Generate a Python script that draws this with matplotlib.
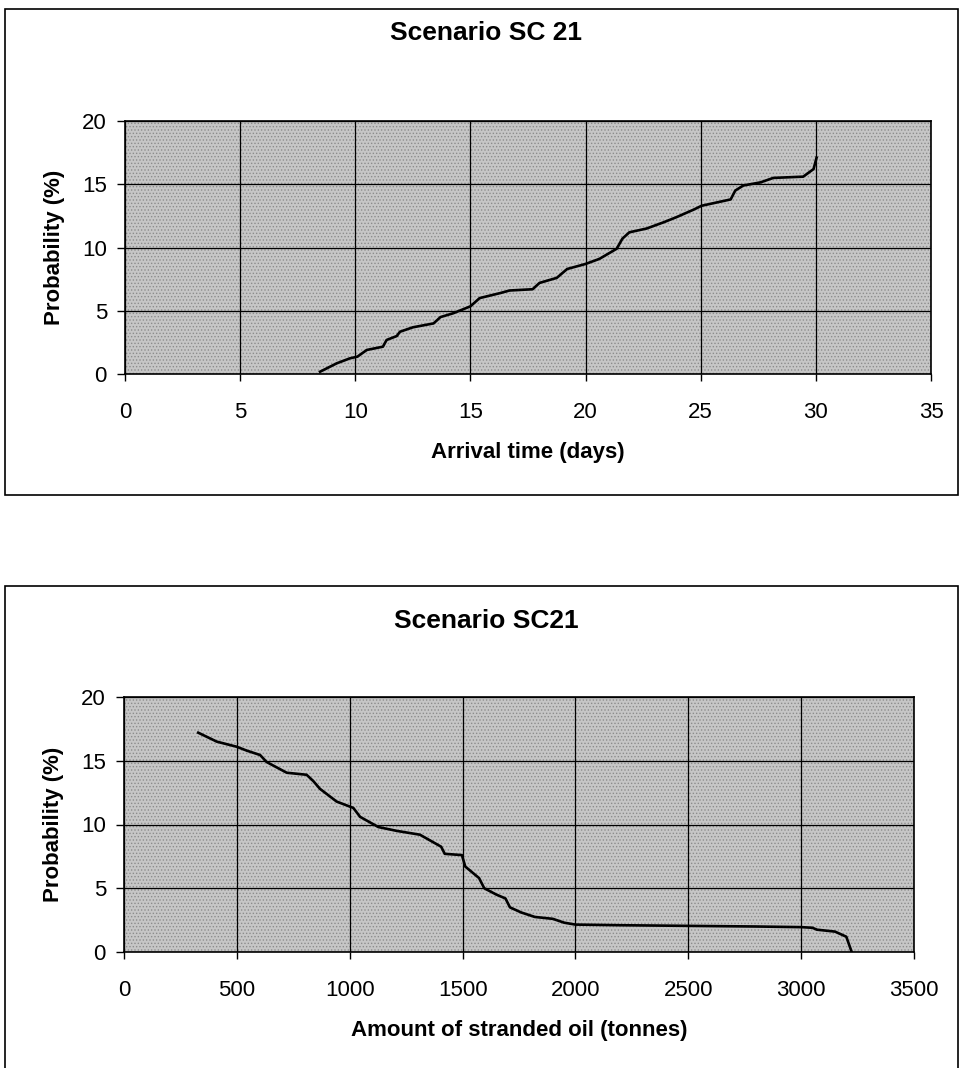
import matplotlib
matplotlib.use("Agg")
import matplotlib.pyplot as plt
from matplotlib.patches import Rectangle

plt.rcParams['font.family'] = ['Liberation Sans', 'DejaVu Sans']
plt.rcParams['hatch.linewidth'] = 0.6

arrival_days = [8.47, 9.19, 9.77, 10.09, 10.5, 11.2, 11.36, 11.8, 11.94, 12.5,
                13.4, 13.7, 14.25, 15.0, 15.4, 16.3, 16.7, 17.7, 18.0, 18.75,
                19.2, 20.0, 20.6, 21.35, 21.6, 21.9, 22.65, 23.4, 23.95, 24.7,
                25.04, 26.3, 26.5, 26.85, 27.6, 28.15, 29.45, 29.9, 30.03]
arrival_prob = [0.18, 0.84, 1.24, 1.37, 1.9, 2.16, 2.69, 3.0, 3.34, 3.69,
                4.0, 4.5, 4.8, 5.35, 6.0, 6.4, 6.6, 6.7, 7.2, 7.6,
                8.3, 8.7, 9.1, 9.9, 10.7, 11.2, 11.5, 12.0, 12.4, 13.0,
                13.3, 13.8, 14.5, 14.9, 15.15, 15.5, 15.6, 16.2, 17.1]

oil_tonnes = [329, 411, 499, 543, 603, 632, 721, 809, 839, 868,
              942, 1016, 1046, 1127, 1208, 1311, 1405, 1421, 1497, 1512,
              1573, 1596, 1650, 1690, 1710, 1760, 1820, 1900, 1950, 2000,
              2200, 2500, 2800, 3000, 3050, 3070, 3150, 3200, 3224]
oil_prob = [17.2, 16.5, 16.1, 15.8, 15.45, 14.9, 14.06, 13.9, 13.4, 12.8,
            11.8, 11.3, 10.6, 9.8, 9.5, 9.2, 8.26, 7.7, 7.6, 6.7,
            5.8, 5.0, 4.5, 4.2, 3.5, 3.1, 2.75, 2.6, 2.3, 2.15,
            2.1, 2.05, 2.0, 1.95, 1.9, 1.75, 1.6, 1.2, 0.0]

W, H = 960, 1068
fig = plt.figure(figsize=(W / 100, H / 100), dpi=100)

# chart borders
fig.patches.append(Rectangle((5 / W, 1 - 495 / H), 953 / W, 486 / H, transform=fig.transFigure,
                             fill=False, edgecolor='black', linewidth=1.2))
fig.patches.append(Rectangle((5 / W, -0.05), 953 / W, 0.05 + 1 - 586 / H, transform=fig.transFigure,
                             fill=False, edgecolor='black', linewidth=1.2))


def make_panel(rect, x, y, xmax, xstep, xlabel, title, title_y):
    ax = fig.add_axes(rect)
    ax.set_facecolor('#c6c6c6')
    ax.add_patch(Rectangle((0, 0), 1, 1, transform=ax.transAxes, facecolor='none',
                           edgecolor='#8c8c8c', hatch='.....', linewidth=0, zorder=0))
    ax.plot(x, y, color='black', linewidth=1.9, zorder=3)
    ax.set_xlim(0, xmax)
    ax.set_ylim(0, 20)
    ax.set_xticks(range(0, xmax + 1, xstep))
    ax.set_yticks(range(0, 21, 5))
    ax.grid(True, color='black', linewidth=0.9)
    ax.set_axisbelow(False)
    for s in ax.spines.values():
        s.set_linewidth(1.2)
    ax.tick_params(axis='x', length=5, width=1, pad=15, labelsize=16)
    ax.tick_params(axis='y', length=6, width=1, pad=7, labelsize=16)
    ax.set_xlabel(xlabel, fontsize=16, fontweight='bold', labelpad=14)
    ax.set_ylabel('Probability (%)', fontsize=16, fontweight='bold', labelpad=12)
    fig.text(486 / W, 1 - title_y / H, title, fontsize=19, fontweight='bold',
             ha='center', va='center')
    return ax


make_panel([125 / W, 1 - 374 / H, 806 / W, 253 / H], arrival_days, arrival_prob,
           35, 5, 'Arrival time (days)', 'Scenario SC 21', 33)
make_panel([124 / W, 1 - 952 / H, 790 / W, 255 / H], oil_tonnes, oil_prob,
           3500, 500, 'Amount of stranded oil (tonnes)', 'Scenario SC21', 621)

fig.savefig('out.png', dpi=100)
